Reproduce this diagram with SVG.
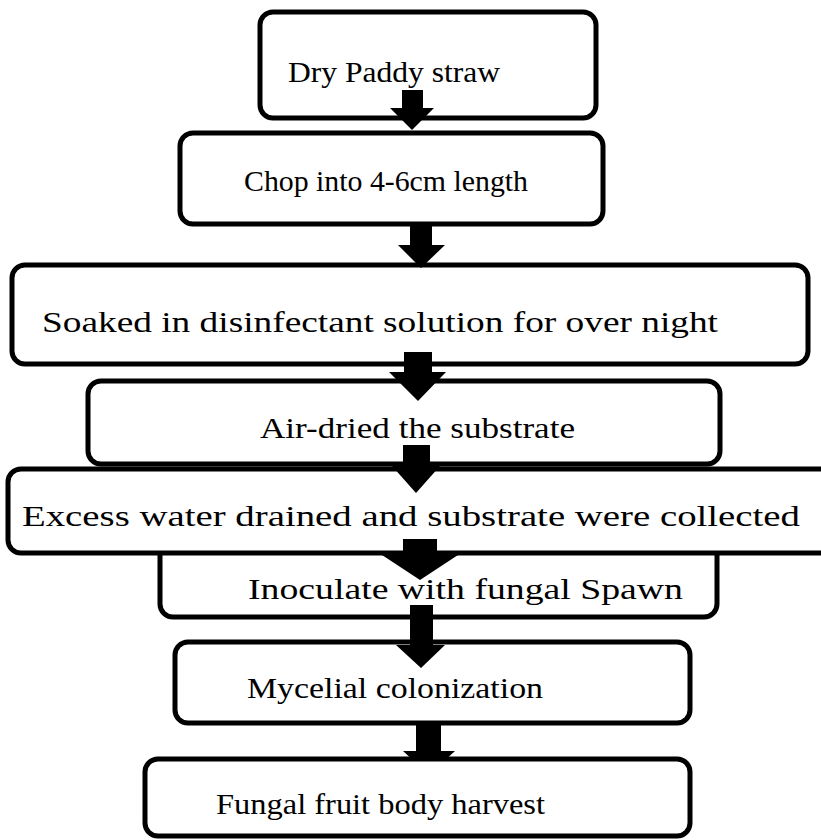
<svg xmlns="http://www.w3.org/2000/svg" width="821" height="840" viewBox="0 0 821 840">
<style>
.box{fill:#fff;stroke:#000;stroke-width:5}
.lbl{font-family:"Liberation Serif","Times New Roman",serif;font-size:30px;fill:#000}
.arr{fill:#000;stroke:none}
</style>
<rect width="821" height="840" fill="#fff"/>
<g id="n1"><rect class="box" x="260" y="12" width="336" height="106" rx="13"/><text class="lbl" x="288" y="82" textLength="212" lengthAdjust="spacingAndGlyphs">Dry Paddy straw</text></g>
<g id="n2"><rect class="box" x="180" y="133" width="423" height="91" rx="13"/><text class="lbl" x="244" y="191" textLength="284" lengthAdjust="spacingAndGlyphs">Chop into 4-6cm length</text></g>
<g id="n3"><rect class="box" x="12" y="265" width="796" height="99" rx="13"/><text class="lbl" x="42" y="332" textLength="676" lengthAdjust="spacingAndGlyphs">Soaked in disinfectant solution for over night</text></g>
<g id="n4"><rect class="box" x="88" y="381" width="632" height="83" rx="13"/><text class="lbl" x="260" y="438" textLength="315" lengthAdjust="spacingAndGlyphs">Air-dried the substrate</text></g>
<g id="n6"><rect class="box" x="160" y="530" width="557" height="87" rx="13"/><text class="lbl" x="248" y="599" textLength="435" lengthAdjust="spacingAndGlyphs">Inoculate with fungal Spawn</text></g>
<g id="n5"><rect class="box" x="8" y="469" width="830" height="84" rx="13"/><text class="lbl" x="22" y="526" textLength="778" lengthAdjust="spacingAndGlyphs">Excess water drained and substrate were collected</text></g>
<g id="n7"><rect class="box" x="175" y="642" width="515" height="81" rx="13"/><text class="lbl" x="247" y="698" textLength="296" lengthAdjust="spacingAndGlyphs">Mycelial colonization</text></g>
<g id="connectors">
<polygon class="arr" points="402,90 423,90 423,108 434,108 412,130 390,108 402,108"/>
<polygon class="arr" points="410,224 432,224 432,245 445,245 421,268 398,245 410,245"/>
<polygon class="arr" points="404,352 432,352 432,372 446,372 418,401 389,372 404,372"/>
<polygon class="arr" points="403,445 430,445 430,466 440,466 416,493 392,466 403,466"/>
<polygon class="arr" points="403,539 437,539 437,555 458,555 420,580 382,555 403,555"/>
<polygon class="arr" points="410,605 433,605 433,645 445,645 421,668 396,645 410,645"/>
<polygon class="arr" points="416,723 441,723 441,751 455,751 429,775 403,751 416,751"/>
</g>
<g id="n8"><rect class="box" x="145" y="759" width="545" height="77" rx="13"/><text class="lbl" x="216" y="814" textLength="329" lengthAdjust="spacingAndGlyphs">Fungal fruit body harvest</text></g>
</svg>
